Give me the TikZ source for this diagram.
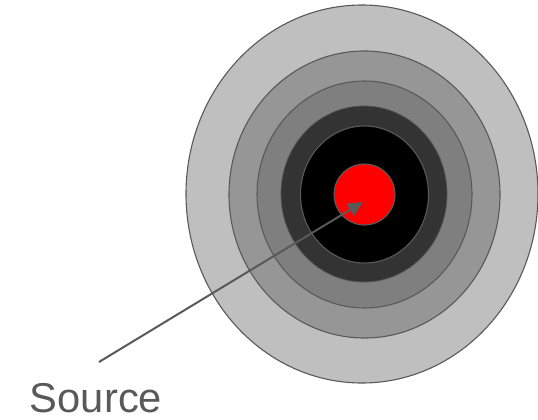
\documentclass[tikz,border=0pt]{standalone}
\usepackage{fontspec}
\setmainfont{Liberation Sans}
\usetikzlibrary{shapes.geometric,arrows.meta}
\definecolor{edgegray}{HTML}{595959}
\definecolor{ringA}{HTML}{BFBFBF}
\definecolor{ringB}{HTML}{969696}
\definecolor{ringC}{HTML}{7F7F7F}
\definecolor{ringD}{HTML}{333333}
\tikzset{
  ring/.style={ellipse, draw=edgegray, line width=1.1pt, inner sep=0pt},
}
\begin{document}
\begin{tikzpicture}[x=1pt,y=-1pt]
\useasboundingbox (0,0) rectangle (538,420);
\node[ring, fill=ringA, minimum width=352pt, minimum height=378pt] (r1) at (362,194) {};
\node[ring, fill=ringB, minimum width=271pt, minimum height=287pt] (r2) at (364.5,194.5) {};
\node[ring, fill=ringC, minimum width=215pt, minimum height=227pt] (r3) at (364.5,194.5) {};
\node[ellipse, inner sep=0pt, draw=ringD!85!white, line width=0.8pt, fill=ringD, minimum width=166pt, minimum height=176pt] (r4) at (364,194) {};
\node[ring, fill=black, minimum width=128pt, minimum height=137pt] (r5) at (364.5,194.5) {};
\node[ring, fill=red, minimum width=61pt, minimum height=61pt] (core) at (364.5,194.5) {};
\coordinate (tip) at (363,202);
\coordinate (src) at (99,362);
\draw[edgegray, line width=2pt, -{Triangle[length=15pt,width=14pt]}] (src) -- (tip);
\node[anchor=base, text=edgegray, font=\fontsize{41.7pt}{44pt}\selectfont, inner sep=0pt] (label) at (96,412) {Source};
\end{tikzpicture}
\end{document}
